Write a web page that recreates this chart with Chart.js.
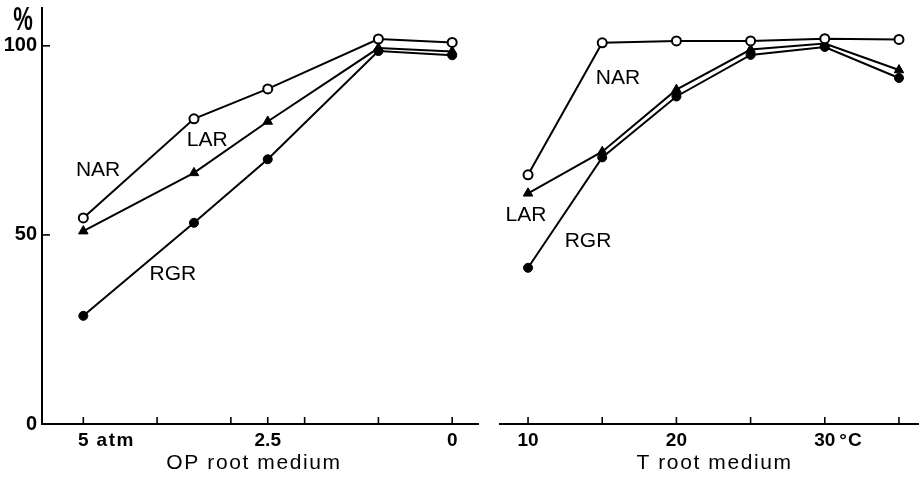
<!DOCTYPE html>
<html>
<head>
<meta charset="utf-8">
<script src="https://cdn.jsdelivr.net/npm/chart.js@4"></script>
<style>
html, body { margin: 0; padding: 0; background: #fff; }
#wrap { position: relative; width: 919px; height: 477px; }
#opChart { position: absolute; left: 0; top: 0; }
#tChart { position: absolute; left: 480px; top: 0; }
</style>
</head>
<body>
<div id="wrap">
  <canvas id="opChart" width="480" height="477"></canvas>
  <canvas id="tChart" width="439" height="477"></canvas>
</div>
<script>
// left panel: osmotic pressure of the root medium (atm)
const opValues = [5, 3.5, 2.5, 1, 0];
const opNAR = [54.5, 80.7, 88.6, 101.8, 100.9];
const opLAR = [51, 66.4, 80, 99.4, 98.5];
const opRGR = [28.6, 53.2, 70, 98.6, 97.5];
const opTicks = [5, 4, 3, 2.5, 2, 1, 0];
const opTickLabels = { 5: '5', 2.5: '2.5', 0: '0' };

// right panel: temperature of the root medium (°C)
const tValues = [10, 15, 20, 25, 30, 35];
const tNAR = [65.9, 100.8, 101.3, 101.3, 101.9, 101.7];
const tLAR = [61, 72, 88.4, 99, 100.6, 93.6];
const tRGR = [41.3, 70.5, 86.6, 97.6, 99.7, 91.5];
const tTicks = [10, 15, 20, 25, 30, 35];
const tTickLabels = { 10: '10', 20: '20', 30: '30' };

const yTicks = [0, 50, 100];
const yTickLabels = { 0: '0', 50: '50', 100: '100' };

const FONT = '"Liberation Sans", Arial, Helvetica, sans-serif';
Chart.defaults.font.family = FONT;
Chart.defaults.color = '#000';

function pts(xs, ys) {
  return xs.map((x, i) => ({ x: x, y: ys[i] }));
}

function makeSets(xs, nar, lar, rgr) {
  const line = { borderColor: '#000', borderWidth: 2, showLine: true, tension: 0 };
  return [
    Object.assign({ label: 'NAR', data: pts(xs, nar), pointStyle: 'circle', pointRadius: 4.5,
      pointBackgroundColor: '#fff', pointBorderColor: '#000', pointBorderWidth: 2 }, line),
    Object.assign({ label: 'LAR', data: pts(xs, lar), pointStyle: 'triangle', pointRadius: 5.5,
      pointBackgroundColor: '#000', pointBorderColor: '#000', pointBorderWidth: 1 }, line),
    Object.assign({ label: 'RGR', data: pts(xs, rgr), pointStyle: 'circle', pointRadius: 4.5,
      pointBackgroundColor: '#000', pointBorderColor: '#000', pointBorderWidth: 1 }, line)
  ];
}

// tick marks drawn inward, unit after a tick label, series names, axis title
const decor = {
  id: 'decor',
  afterDraw(chart, args, o) {
    const ctx = chart.ctx;
    const xs = chart.scales.x, ys = chart.scales.y;
    const area = chart.chartArea;
    ctx.save();
    ctx.strokeStyle = '#000';
    ctx.lineWidth = 1.6;
    o.xMarks.forEach(v => {
      const px = xs.getPixelForValue(v);
      ctx.beginPath();
      ctx.moveTo(px, area.bottom);
      ctx.lineTo(px, area.bottom - 7);
      ctx.stroke();
    });
    (o.yMarks || []).forEach(v => {
      const py = ys.getPixelForValue(v);
      ctx.beginPath();
      ctx.moveTo(area.left, py);
      ctx.lineTo(area.left + 8, py);
      ctx.stroke();
    });

    ctx.fillStyle = '#000';
    ctx.textBaseline = 'middle';

    // unit next to one tick label
    ctx.font = 'bold 19px ' + FONT;
    const ux = xs.getPixelForValue(o.unit.value);
    const w = ctx.measureText(o.unit.label).width;
    ctx.textAlign = 'left';
    ctx.letterSpacing = o.unit.spacing + 'px';
    ctx.fillText(o.unit.text, ux + w / 2 + o.unit.gap, area.bottom + 16.4);
    ctx.letterSpacing = '0px';

    // series names
    ctx.font = '21px ' + FONT;
    ctx.textAlign = 'center';
    o.names.forEach(n => {
      ctx.fillText(n.text, xs.getPixelForValue(n.x), ys.getPixelForValue(n.y));
    });

    // axis title
    ctx.letterSpacing = '1.6px';
    ctx.fillText(o.title, (area.left + area.right) / 2 + o.titleShift, area.bottom + 39);
    ctx.letterSpacing = '0px';

    // percent sign
    if (o.percent) {
      ctx.font = 'bold 22px ' + FONT;
      ctx.translate(area.left - 19, 21);
      ctx.scale(1, 1.5);
      ctx.fillText('%', 0, 0);
    }
    ctx.restore();
  }
};

function makeChart(id, cfg) {
  return new Chart(document.getElementById(id), {
    type: 'scatter',
    data: { datasets: makeSets(cfg.xs, cfg.nar, cfg.lar, cfg.rgr) },
    plugins: [decor],
    options: {
      responsive: false,
      animation: false,
      clip: false,
      layout: { padding: cfg.padding, autoPadding: false },
      plugins: {
        legend: { display: false },
        tooltip: { enabled: false },
        decor: cfg.decor
      },
      scales: {
        x: {
          type: 'linear',
          reverse: cfg.reverse,
          min: cfg.xMin,
          max: cfg.xMax,
          afterBuildTicks: s => { s.ticks = cfg.ticks.map(v => ({ value: v })); },
          afterFit: s => {
            s.height = 53;
            s.paddingLeft = 0;
            s.paddingRight = 0;
          },
          grid: { display: false, drawTicks: false },
          border: { display: true, color: '#000', width: 2 },
          ticks: {
            autoSkip: false,
            maxRotation: 0,
            padding: 5,
            font: { size: 19, weight: 'bold' },
            callback: v => cfg.tickLabels[v] || ''
          }
        },
        y: {
          type: 'linear',
          min: 0,
          max: 110,
          display: cfg.showY,
          afterBuildTicks: s => { s.ticks = yTicks.map(v => ({ value: v })); },
          afterFit: s => {
            s.width = cfg.showY ? 42 : 0;
            s.paddingTop = 0;
            s.paddingBottom = 0;
          },
          grid: { display: false, drawTicks: false },
          border: { display: true, color: '#000', width: 2 },
          ticks: {
            padding: 5,
            font: { size: 20, weight: 'bold' },
            callback: v => yTickLabels[v]
          }
        }
      }
    }
  });
}

makeChart('opChart', {
  xs: opValues, nar: opNAR, lar: opLAR, rgr: opRGR,
  ticks: opTicks, tickLabels: opTickLabels,
  reverse: true, xMin: -0.35, xMax: 5.56, showY: true,
  padding: { top: 8, right: 2, left: 0, bottom: 0 },
  decor: {
    xMarks: opTicks, yMarks: [50, 100],
    unit: { value: 5, label: '5', text: 'atm', gap: 8, spacing: 1.5 },
    names: [
      { text: 'NAR', x: 4.80, y: 67.2 },
      { text: 'LAR', x: 3.32, y: 75.1 },
      { text: 'RGR', x: 3.785, y: 39.7 }
    ],
    title: 'OP root medium', titleShift: -6, percent: true
  }
});

makeChart('tChart', {
  xs: tValues, nar: tNAR, lar: tLAR, rgr: tRGR,
  ticks: tTicks, tickLabels: tTickLabels,
  reverse: false, xMin: 8.11, xMax: 36.35, showY: false,
  padding: { top: 8, right: 0, left: 20, bottom: 0 },
  decor: {
    xMarks: tTicks,
    unit: { value: 30, label: '30', text: '°C', gap: 4, spacing: 1 },
    names: [
      { text: 'NAR', x: 16.06, y: 91.5 },
      { text: 'LAR', x: 9.86, y: 55.3 },
      { text: 'RGR', x: 14.04, y: 48.4 }
    ],
    title: 'T root medium', titleShift: 5, percent: false
  }
});
</script>
</body>
</html>
